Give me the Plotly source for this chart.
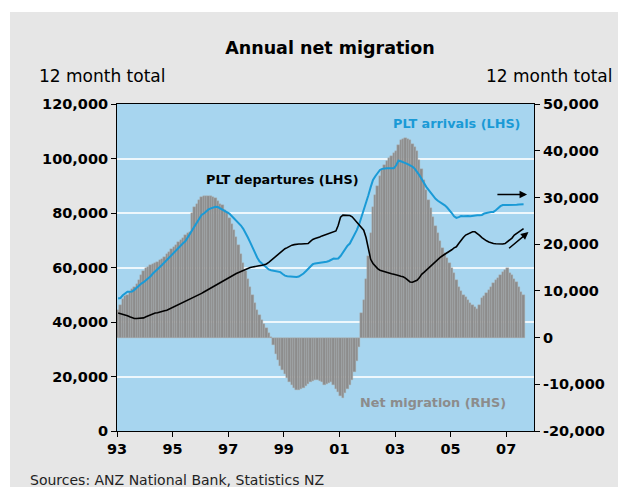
import plotly.graph_objects as go

# ---------------- data (thousands, monthly Jan 1993 - Aug 2007) ----------------
start_year = 1993
net_migration_k = [
    5.9, 7.0, 8.2, 8.8, 9.2, 9.8, 10.3, 10.9, 11.5, 12.4, 13.3, 14.2,
    14.8, 15.2, 15.5, 15.7, 16.0, 16.2, 16.6, 16.9, 17.3, 17.8, 18.3, 18.9,
    19.4, 19.9, 20.5, 20.9, 21.4, 22.0, 22.3, 22.6, 26.6, 28.0, 28.7, 29.5,
    30.1, 30.3, 30.3, 30.3, 30.2, 30.0, 29.8, 29.2, 28.7, 28.3, 27.4, 26.6,
    25.6, 24.4, 23.1, 21.6, 19.8, 17.9, 15.9, 14.3, 12.6, 10.9, 9.2, 7.5,
    5.9, 4.8, 3.8, 3.0, 2.0, 1.0, 0.1, -1.5, -3.5, -4.9, -6.0, -7.0,
    -7.7, -8.7, -9.6, -10.2, -10.8, -11.3, -11.3, -11.0, -10.7, -10.3, -9.9, -9.5,
    -9.3, -9.1, -9.1, -9.2, -9.6, -10.2, -10.0, -9.7, -9.5, -10.2, -11.0, -11.6,
    -12.5, -13.0, -11.8, -11.0, -10.2, -9.1, -7.3, -5.0, -2.0, 5.2, 8.0, 12.5,
    17.5, 22.3, 28.0, 30.5, 32.5, 34.5, 36.0, 37.0, 37.8, 38.4, 38.8, 39.5,
    40.0, 41.2, 42.3, 42.6, 42.7, 42.6, 42.2, 41.5, 40.9, 40.0, 38.0, 36.0,
    33.7, 31.5, 29.5, 27.7, 25.8, 23.9, 22.3, 20.7, 19.2, 18.0, 17.0, 16.0,
    15.0, 13.8, 12.4, 10.9, 9.9, 9.2, 8.7, 8.0, 7.3, 6.9, 6.5, 6.2,
    7.0, 8.4, 9.0, 9.6, 10.2, 10.8, 11.6, 12.3, 12.8, 13.5, 14.1, 14.5,
    14.8, 13.9, 13.4, 12.6, 11.8, 10.9, 9.8, 9.1,
]
arrivals_k = [
    48.6, 48.8, 49.8, 50.6, 51.1, 51.1, 51.2, 51.8, 52.6, 53.3, 54.1, 54.6,
    55.3, 56.0, 56.8, 57.8, 58.5, 59.3, 60.2, 61.0, 61.9, 62.7, 63.6, 64.6,
    65.4, 66.2, 67.1, 68.0, 68.9, 69.6, 71.0, 72.5, 74.0, 75.6, 76.8, 78.0,
    79.3, 79.8, 80.6, 81.3, 81.7, 82.1, 82.3, 82.2, 81.7, 81.1, 80.6, 80.1,
    79.8, 78.9, 78.0, 77.3, 76.5, 75.4, 74.2, 72.8, 71.0, 69.2, 67.3, 65.5,
    63.7, 62.3, 61.5, 60.6, 59.9, 59.3, 59.0, 58.8, 58.6, 58.4, 58.3, 57.6,
    57.0, 56.8, 56.7, 56.6, 56.6, 56.5, 56.7, 57.2, 57.8, 58.6, 59.5, 60.5,
    61.2, 61.5, 61.6, 61.7, 61.9, 62.1, 62.1, 62.4, 63.0, 63.3, 63.2, 63.3,
    64.2, 65.5, 66.8, 68.0, 68.8, 70.3, 71.8, 73.7, 75.8, 78.3, 81.0, 84.0,
    86.5, 89.5, 92.1, 93.5, 94.8, 95.8, 96.2, 96.4, 96.4, 96.4, 96.3, 96.4,
    97.5, 99.2, 99.0, 98.5, 98.3, 97.9, 97.5, 97.0, 96.3, 95.3, 93.9, 92.5,
    90.8, 89.6, 88.5, 87.3, 86.0, 85.2, 84.5, 84.0, 83.5, 82.8, 82.0, 81.1,
    80.0, 78.8, 78.2, 78.5, 78.9, 78.8, 78.9, 78.9, 78.8, 79.0, 79.2, 79.2,
    79.2, 79.3, 79.8, 80.1, 80.2, 80.4, 80.4, 81.0, 81.8, 82.5, 82.9, 82.9,
    82.9, 82.9, 82.8, 83.0, 83.0, 83.1, 83.1, 83.2,
]
departures_k = [
    43.3, 43.1, 42.8, 42.6, 42.3, 41.9, 41.5, 41.3, 41.3, 41.4, 41.4, 41.5,
    41.9, 42.3, 42.7, 43.1, 43.3, 43.4, 43.7, 43.9, 44.1, 44.3, 44.7, 45.2,
    45.6, 46.0, 46.5, 46.8, 47.1, 47.5, 47.9, 48.4, 48.8, 49.2, 49.7, 50.1,
    50.5, 51.0, 51.5, 51.8, 52.3, 52.8, 53.4, 53.8, 54.3, 54.8, 55.4, 55.9,
    56.5, 57.0, 57.4, 57.8, 58.2, 58.6, 59.0, 59.4, 59.7, 60.0, 60.2, 60.3,
    60.4, 60.6, 60.8, 61.0, 61.3, 61.9, 62.6, 63.3, 63.9, 64.7, 65.5, 66.3,
    66.9, 67.3, 67.8, 68.2, 68.4, 68.6, 68.6, 68.6, 68.7, 68.6, 68.8, 69.6,
    70.3, 70.6, 70.8, 71.2, 71.6, 71.9, 72.3, 72.7, 73.0, 73.1, 73.4, 75.5,
    78.5, 79.2, 79.2, 79.3, 79.1, 78.6, 77.6, 76.8, 75.8, 74.7, 73.7, 71.0,
    66.4, 63.0, 61.5, 60.4, 59.6, 59.0, 58.7, 58.4, 58.1, 57.9, 57.7, 57.5,
    57.4, 57.1, 56.8, 56.6, 56.1, 55.3, 54.7, 54.6, 55.0, 55.3, 56.2, 57.5,
    58.2, 59.0, 59.8, 60.6, 61.4, 62.3, 63.1, 63.7, 64.3, 64.8, 65.2, 65.7,
    66.5, 67.2, 67.6, 68.8, 70.0, 71.0, 71.9, 72.4, 72.8, 73.1, 73.1, 72.6,
    71.8, 71.0, 70.3, 69.8, 69.4, 69.0, 68.8, 68.7, 68.6, 68.6, 68.6, 68.8,
    69.4, 70.0, 70.8, 71.9, 72.5, 73.2, 73.8, 74.3,
]
x_tick_years = [1993, 1995, 1997, 1999, 2001, 2003, 2005, 2007]
x_tick_labels = ["93", "95", "97", "99", "01", "03", "05", "07"]
left_tick_vals = [0, 20000, 40000, 60000, 80000, 100000, 120000]
left_tick_labels = ["0", "20,000", "40,000", "60,000", "80,000", "100,000", "120,000"]
right_tick_vals = [-20000, -10000, 0, 10000, 20000, 30000, 40000, 50000]
right_tick_labels = ["-20,000", "-10,000", "0", "10,000", "20,000", "30,000", "40,000", "50,000"]

months = [start_year + (i + 0.5) / 12 for i in range(len(net_migration_k))]
net_migration = [v * 1000 for v in net_migration_k]
arrivals = [v * 1000 for v in arrivals_k]
departures = [v * 1000 for v in departures_k]

FONT = "DejaVu Sans"
BLUE = "#1a9ad6"
TICKFONT = dict(size=14.5, family=FONT, weight="bold", color="black")

fig = go.Figure()
fig.add_trace(go.Bar(x=months, y=net_migration, yaxis="y", name="Net migration (RHS)",
                     marker=dict(color="#8c8c8c", line=dict(color="#b4b4b4", width=0.4)),
                     width=1 / 12))
fig.add_trace(go.Scatter(x=months, y=arrivals, yaxis="y2", mode="lines",
                         name="PLT arrivals (LHS)", line=dict(color=BLUE, width=2)))
fig.add_trace(go.Scatter(x=months, y=departures, yaxis="y2", mode="lines",
                         name="PLT departures (LHS)", line=dict(color="black", width=1.6)))

fig.update_layout(
    width=618, height=479, autosize=False,
    margin=dict(l=109, r=92, t=96, b=56),
    paper_bgcolor="#e6e6e6", plot_bgcolor="#a7d5ef",
    showlegend=False, bargap=0,
    font=dict(family=FONT, color="black"),
    title=dict(text="<b>Annual net migration</b>", x=(330 - 8) / 618, xanchor="center",
               y=1 - 40 / 479, yanchor="middle", font=dict(size=17.5, family=FONT)),
    xaxis=dict(range=[1993, 2008], tickvals=x_tick_years, ticktext=x_tick_labels,
               showgrid=False, zeroline=False, showline=True, linecolor="black", linewidth=1,
               mirror=True, ticks="outside", ticklen=5, tickcolor="black",
               tickfont=TICKFONT),
    yaxis=dict(range=[-20000, 50000], side="right", tickvals=right_tick_vals,
               ticktext=right_tick_labels, showgrid=False, zeroline=False,
               showline=True, linecolor="black", linewidth=1, ticks="outside",
               ticklen=5, tickcolor="black", tickfont=TICKFONT),
    yaxis2=dict(range=[0, 120000], side="left", overlaying="y", tickvals=left_tick_vals,
                ticktext=left_tick_labels, showgrid=True, gridcolor="#eef7fc", gridwidth=1.5,
                zeroline=False, showline=True, linecolor="black", linewidth=1,
                ticks="outside", ticklen=5, tickcolor="black", tickfont=TICKFONT),
)

# outer white border strips (reference gray panel starts at ~ (10, 12))
fig.add_shape(type="rect", xref="paper", yref="paper", x0=-0.4, x1=1.4,
              y0=(431 - 12) / 327, y1=1.5, fillcolor="white", line=dict(width=0), layer="below")
fig.add_shape(type="rect", xref="paper", yref="paper", x0=-0.4, x1=(10 - 117) / 417,
              y0=-0.5, y1=1.5, fillcolor="white", line=dict(width=0), layer="below")

# axis captions & source
fig.add_annotation(text="12 month total", xref="paper", yref="paper",
                   x=(37 - 117) / 417, y=(431 - 76) / 327, xanchor="left", yanchor="middle",
                   showarrow=False, font=dict(size=17, family=FONT))
fig.add_annotation(text="12 month total", xref="paper", yref="paper",
                   x=(615 - 117) / 417, y=(431 - 76) / 327, xanchor="right", yanchor="middle",
                   showarrow=False, font=dict(size=17, family=FONT))
fig.add_annotation(text="Sources: ANZ National Bank, Statistics NZ", xref="paper", yref="paper",
                   x=(28 - 117) / 417, y=(431 - 480) / 327, xanchor="left", yanchor="middle",
                   showarrow=False, font=dict(size=14, family=FONT, color="#222222"))

# series labels
fig.add_annotation(text="<b>PLT arrivals (LHS)</b>", x=2005.23, y=113000, xref="x", yref="y2",
                   showarrow=False, font=dict(size=12.8, color=BLUE, family=FONT))
fig.add_annotation(text="<b>PLT departures (LHS)</b>", x=1998.97, y=92450, xref="x", yref="y2",
                   showarrow=False, font=dict(size=12.8, color="black", family=FONT))
fig.add_annotation(text="<b>Net migration (RHS)</b>", x=2004.37, y=10540, xref="x", yref="y2",
                   showarrow=False, font=dict(size=12.8, color="#8c8c8c", family=FONT))

# arrows
fig.add_annotation(x=2007.75, y=86830, ax=2006.63, ay=86830, xref="x", yref="y2",
                   axref="x", ayref="y2", text="", showarrow=True, arrowhead=2,
                   arrowsize=1, arrowwidth=1.5, arrowcolor="black")
fig.add_annotation(x=2007.8, y=73000, ax=2007.05, ay=66600, xref="x", yref="y2",
                   axref="x", ayref="y2", text="", showarrow=True, arrowhead=2,
                   arrowsize=1, arrowwidth=1.5, arrowcolor="black")

fig.write_html("out.html")
